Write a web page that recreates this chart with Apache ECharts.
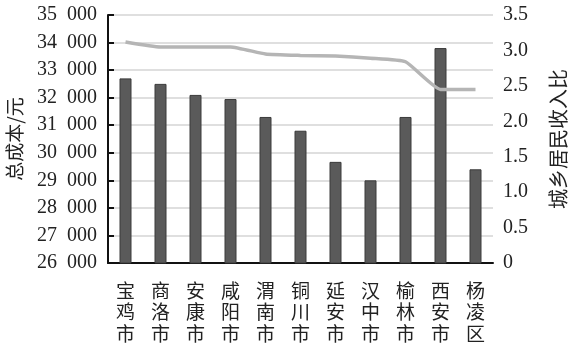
<!DOCTYPE html>
<html><head><meta charset="utf-8">
<script src="https://cdn.jsdelivr.net/npm/echarts@6/dist/echarts.min.js"></script>
<style>html,body{margin:0;padding:0;background:#fff}#c{width:572px;height:346px}</style>
</head><body><div id="c"></div>
<script>
const categories = ['宝鸡市','商洛市','安康市','咸阳市','渭南市','铜川市','延安市','汉中市','榆林市','西安市','杨凌区'];
const totalCost = [32700, 32500, 32100, 31950, 31300, 30800, 29670, 29000, 31300, 33800, 29400];
const incomeRatio = [3.12, 3.05, 3.05, 3.05, 2.95, 2.93, 2.92, 2.89, 2.84, 2.45, 2.45];
const leftName = '总成本/元';
const rightName = '城乡居民收入比';

const numFont = '"Liberation Serif","DejaVu Serif",serif';
const cjkFont = '"Noto Sans CJK SC","Liberation Serif",serif';

const chart = echarts.init(document.getElementById('c'));
chart.setOption({
  animation: false,
  backgroundColor: '#fff',
  grid: { left: 108, right: 79, top: 15, bottom: 83, containLabel: false, outerBoundsMode: 'none' },
  xAxis: {
    type: 'category',
    data: categories,
    axisLine: { lineStyle: { color: '#111', width: 2 } },
    axisTick: { show: true, inside: true, alignWithLabel: true, length: 4, lineStyle: { color: '#111', width: 2 } },
    axisLabel: {
      interval: 0, margin: 17, color: '#222',
      fontFamily: cjkFont, fontSize: 19, lineHeight: 21.5,
      formatter: v => v.split('').join('\n')
    }
  },
  yAxis: [
    {
      type: 'value', min: 26000, max: 35000, interval: 1000,
      name: leftName, nameLocation: 'middle', nameGap: 84, nameRotate: 90,
      nameTextStyle: { fontFamily: cjkFont, fontSize: 19, color: '#222' },
      axisLine: { show: true, lineStyle: { color: '#111', width: 2 } },
      axisTick: { show: true, inside: true, length: 6, lineStyle: { color: '#111', width: 2 } },
      splitLine: { show: true, lineStyle: { color: '#d4d4d4', width: 1.5 } },
      axisLabel: {
        margin: 11, color: '#222', fontFamily: numFont, fontSize: 20,
        formatter: v => Math.round(v / 1000) + '\u2002000'
      }
    },
    {
      type: 'value', min: 0, max: 3.5, interval: 0.5, position: 'right',
      name: rightName, nameLocation: 'middle', nameGap: 55, nameRotate: 90,
      nameTextStyle: { fontFamily: cjkFont, fontSize: 20, color: '#222' },
      axisLine: { show: false },
      axisTick: { show: false },
      splitLine: { show: false },
      axisLabel: {
        margin: 10, color: '#222', fontFamily: numFont, fontSize: 20,
        formatter: v => v === 0 ? '0' : v.toFixed(1)
      }
    }
  ],
  series: [
    {
      type: 'bar', yAxisIndex: 0, data: totalCost, barWidth: 12,
      itemStyle: { color: '#5a5a5a', borderColor: '#3a3a3a', borderWidth: 1 }
    },
    {
      type: 'line', yAxisIndex: 1, data: incomeRatio, smooth: 0.15,
      symbol: 'none', z: 5,
      lineStyle: { color: '#b5b5b5', width: 3.5 }
    }
  ]
});
</script></body></html>
